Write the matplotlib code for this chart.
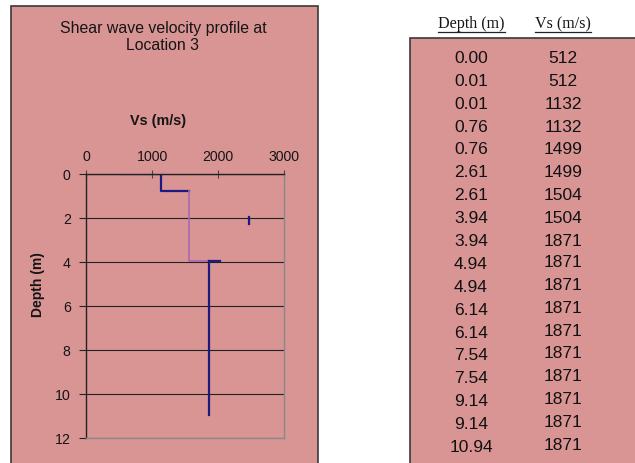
import matplotlib
matplotlib.use("Agg")
import matplotlib.pyplot as plt
from matplotlib.patches import Rectangle

# ---- data ----
table_depth = ["0.00", "0.01", "0.01", "0.76", "0.76", "2.61", "2.61", "3.94", "3.94",
               "4.94", "4.94", "6.14", "6.14", "7.54", "7.54", "9.14", "9.14", "10.94"]
table_vs = ["512", "512", "1132", "1132", "1499", "1499", "1504", "1504", "1871",
            "1871", "1871", "1871", "1871", "1871", "1871", "1871", "1871", "1871"]

# plotted profile segments (Vs, depth)
seg_top_vs = [512, 1132];          seg_top_d = [0.0, 0.0]
seg_a_vs = [1132, 1132, 1560];     seg_a_d = [0.0, 0.76, 0.76]
seg_b_vs = [1560, 1560, 1868];     seg_b_d = [0.76, 3.97, 3.97]
seg_c_vs = [1868, 2030];           seg_c_d = [3.97, 3.97]
seg_d_vs = [1868, 1868];           seg_d_d = [3.97, 10.94]
seg_e_vs = [2470, 2470];           seg_e_d = [1.95, 2.27]

x_ticks = [0, 1000, 2000, 3000]
y_ticks = [0, 2, 4, 6, 8, 10, 12]

W, H = 635, 463
PINK = "#d99594"
NAVY = "#1c1a82"
VIOLET = "#a868b0"
LIGHT = "#6e62c0"
TXT = "#151515"

fig = plt.figure(figsize=(W / 100, H / 100), dpi=100)
fig.patch.set_facecolor("white")

def px(x, y):
    return x / W, 1 - y / H

# left panel
x0, y0 = px(11, 470)
fig.patches.append(Rectangle((x0, y0), (318 - 11) / W, (470 - 6) / H,
                             transform=fig.transFigure, facecolor=PINK,
                             edgecolor="#3a3a3a", linewidth=1.2, zorder=0))
# table panel
x0, y0 = px(410, 470)
fig.patches.append(Rectangle((x0, y0), (640 - 410) / W, (470 - 38) / H,
                             transform=fig.transFigure, facecolor=PINK,
                             edgecolor="#3a3a3a", linewidth=1.2, zorder=0))

ax = fig.add_axes([86 / W, 25 / H, 198 / W, 264 / H])
ax.set_zorder(3)
ax.set_facecolor(PINK)
ax.patch.set_alpha(0)

ax.plot(seg_top_vs, seg_top_d, color=LIGHT, lw=1.0)
ax.plot(seg_a_vs, seg_a_d, color=NAVY, lw=1.6)
ax.plot(seg_b_vs, seg_b_d, color=VIOLET, lw=1.2)
ax.plot(seg_c_vs, seg_c_d, color=NAVY, lw=1.6)
ax.plot(seg_d_vs, seg_d_d, color=NAVY, lw=1.6)
ax.plot(seg_e_vs, seg_e_d, color=NAVY, lw=1.6)

ax.set_xlim(0, 3000)
ax.set_ylim(12, 0)
ax.set_xticks(x_ticks)
ax.set_yticks(y_ticks)
ax.xaxis.tick_top()
ax.xaxis.set_label_position("top")
ax.tick_params(axis="x", direction="inout", length=6, width=0.8, pad=4,
               labelsize=10.2, labelcolor=TXT, color="#444444")
ax.tick_params(axis="y", direction="out", length=5, width=0.8, pad=6,
               labelsize=10.2, labelcolor=TXT, color="#222222")
for lab in ax.get_xticklabels() + ax.get_yticklabels():
    lab.set_family("Liberation Sans")
ax.grid(axis="y", color="#222222", lw=0.8)
ax.grid(axis="x", visible=False)
ax.set_axisbelow(True)
ax.spines["top"].set_color("#222222")
ax.spines["left"].set_color("#222222")
ax.spines["bottom"].set_color("#8a8a8a")
ax.spines["right"].set_color("#8a8a8a")
for s in ax.spines.values():
    s.set_linewidth(1.0)

fig.text(*px(38, 285), "Depth (m)", ha="center", va="center", rotation=90,
         fontsize=10, fontweight="bold", family="Liberation Sans", color=TXT)
fig.text(*px(158, 121), "Vs (m/s)", ha="center", va="center", fontsize=10.4,
         fontweight="bold", family="Liberation Sans", color=TXT)
fig.text(*px(163, 37), "Shear wave velocity profile at\nLocation 3", ha="center",
         va="center", fontsize=11.4, family="Liberation Sans", color=TXT,
         linespacing=1.2)

# table headers
fig.text(*px(471, 24), "Depth (m)", ha="center", va="center", fontsize=11.6,
         family="Liberation Serif", color=TXT)
fig.text(*px(563, 24), "Vs (m/s)", ha="center", va="center", fontsize=11.6,
         family="Liberation Serif", color=TXT)
for xa, xb in ((438, 505), (535, 591)):
    fig.add_artist(plt.Line2D([xa / W, xb / W], [1 - 32 / H, 1 - 32 / H],
                              transform=fig.transFigure, color="#222222", lw=0.9))

for i, (d, v) in enumerate(zip(table_depth, table_vs)):
    y = 58.3 + i * 22.9
    fig.text(*px(471, y), d, ha="center", va="center", fontsize=12.5,
             family="Liberation Sans", color="#111111")
    fig.text(*px(563, y - (2 if i > 8 else 0)), v, ha="center", va="center",
             fontsize=12.5, family="Liberation Sans", color="#111111")

fig.savefig("out.png", dpi=100)
